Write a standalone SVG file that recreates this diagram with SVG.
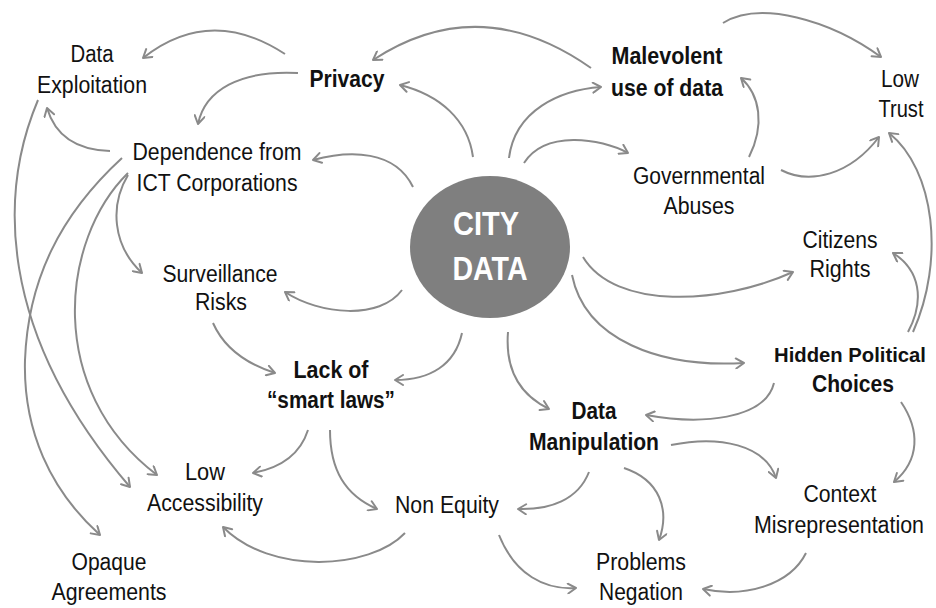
<svg xmlns="http://www.w3.org/2000/svg" width="936" height="608" viewBox="0 0 936 608">
<defs>
<marker id="ah" viewBox="0 0 12 12" refX="10" refY="6" markerWidth="12" markerHeight="12" markerUnits="userSpaceOnUse" orient="auto">
<path d="M2,1 L10,6 L2,11" fill="none" stroke="#8a8a8a" stroke-width="2" stroke-linecap="round" stroke-linejoin="round"/>
</marker>
<style>
.c{fill:none;stroke:#8a8a8a;stroke-width:2;marker-end:url(#ah)}
.t{font-family:"Liberation Sans Narrow","Liberation Sans",Arial,sans-serif;font-size:23px;fill:#111;text-anchor:middle}
.b{font-weight:bold}
.w{font-family:"Liberation Sans Narrow","Liberation Sans",Arial,sans-serif;font-size:33px;font-weight:bold;fill:#fff;text-anchor:middle}
</style>
</defs>
<rect width="936" height="608" fill="#fff"/>
<g id="connectors">
<path class="c" d="M285,54 Q210,5 143,58"/>
<path class="c" d="M298,73 C240,70 205,90 198,124"/>
<path class="c" d="M473,157 C468,120 440,95 400,85"/>
<path class="c" d="M591,68 Q480,-10 373,60"/>
<path class="c" d="M509,158 C515,110 560,90 601,87"/>
<path class="c" d="M524,163 C545,130 600,138 628,153"/>
<path class="c" d="M749,157 C765,125 760,95 741,78"/>
<path class="c" d="M781,170 C810,185 850,175 879,137"/>
<path class="c" d="M723,23 C760,0 830,20 881,57"/>
<path class="c" d="M913,332 C945,260 935,170 889,133"/>
<path class="c" d="M908,332 C925,300 920,270 893,253"/>
<path class="c" d="M583,257 C615,310 720,305 793,272"/>
<path class="c" d="M572,275 C585,340 660,368 744,363"/>
<path class="c" d="M774,383 C765,420 700,425 646,415"/>
<path class="c" d="M508,332 C505,370 520,395 549,409"/>
<path class="c" d="M901,402 C920,430 920,460 894,482"/>
<path class="c" d="M671,445 C720,435 765,445 776,478"/>
<path class="c" d="M589,472 C578,500 550,510 518,509"/>
<path class="c" d="M624,468 C660,480 670,510 659,540"/>
<path class="c" d="M499,535 C515,575 545,590 576,588"/>
<path class="c" d="M806,553 C790,585 745,598 703,589"/>
<path class="c" d="M308,430 C300,455 280,468 253,473"/>
<path class="c" d="M330,430 C330,470 345,495 377,509"/>
<path class="c" d="M405,533 C370,570 270,575 223,527"/>
<path class="c" d="M213,323 C225,350 250,365 275,373"/>
<path class="c" d="M462,333 C455,365 430,380 395,380"/>
<path class="c" d="M402,290 C380,320 320,315 285,292"/>
<path class="c" d="M413,187 C395,150 350,150 313,160"/>
<path class="c" d="M110,151 C75,150 55,135 47,108"/>
<path class="c" d="M38,100 C0,190 -5,330 130,487"/>
<path class="c" d="M122,158 C60,215 28,280 25,360 C23,430 50,490 100,535"/>
<path class="c" d="M128,173 C60,240 45,390 157,475"/>
<path class="c" d="M128,175 C110,205 112,245 142,273"/>
</g>
<g id="city-data">
<ellipse cx="490" cy="247" rx="80" ry="71" fill="#7f7f7f"/>
<text class="w" x="486" y="235" textLength="66" lengthAdjust="spacingAndGlyphs">CITY</text>
<text class="w" x="490" y="280" textLength="75" lengthAdjust="spacingAndGlyphs">DATA</text>
</g>
<g id="data-exploitation">
<text class="t" x="92" y="62" textLength="43" lengthAdjust="spacingAndGlyphs">Data</text>
<text class="t" x="92" y="93" textLength="110" lengthAdjust="spacingAndGlyphs">Exploitation</text>
</g>
<g id="privacy">
<text class="t b" x="347" y="87" textLength="75" lengthAdjust="spacingAndGlyphs">Privacy</text>
</g>
<g id="malevolent-use">
<text class="t b" x="667" y="64" textLength="111" lengthAdjust="spacingAndGlyphs">Malevolent</text>
<text class="t b" x="667" y="96" textLength="112" lengthAdjust="spacingAndGlyphs">use of data</text>
</g>
<g id="low-trust">
<text class="t" x="900" y="87" textLength="38" lengthAdjust="spacingAndGlyphs">Low</text>
<text class="t" x="901" y="117" textLength="45" lengthAdjust="spacingAndGlyphs">Trust</text>
</g>
<g id="dependence">
<text class="t" x="217" y="160" textLength="169" lengthAdjust="spacingAndGlyphs">Dependence from</text>
<text class="t" x="217" y="191" textLength="161" lengthAdjust="spacingAndGlyphs">ICT Corporations</text>
</g>
<g id="governmental-abuses">
<text class="t" x="699" y="184" textLength="132" lengthAdjust="spacingAndGlyphs">Governmental</text>
<text class="t" x="699" y="214" textLength="71" lengthAdjust="spacingAndGlyphs">Abuses</text>
</g>
<g id="citizens-rights">
<text class="t" x="840" y="248" textLength="75" lengthAdjust="spacingAndGlyphs">Citizens</text>
<text class="t" x="840" y="277" textLength="61" lengthAdjust="spacingAndGlyphs">Rights</text>
</g>
<g id="surveillance-risks">
<text class="t" x="220" y="282" textLength="115" lengthAdjust="spacingAndGlyphs">Surveillance</text>
<text class="t" x="221" y="310" textLength="52" lengthAdjust="spacingAndGlyphs">Risks</text>
</g>
<g id="lack-smart-laws">
<text class="t b" x="331" y="378" textLength="75" lengthAdjust="spacingAndGlyphs">Lack of</text>
<text class="t b" x="331" y="408" textLength="128" lengthAdjust="spacingAndGlyphs">“smart laws”</text>
</g>
<g id="hidden-political-choices">
<text class="t b" x="850" y="362" style="font-size:21px" textLength="152" lengthAdjust="spacingAndGlyphs">Hidden Political</text>
<text class="t b" x="853" y="392" textLength="82" lengthAdjust="spacingAndGlyphs">Choices</text>
</g>
<g id="data-manipulation">
<text class="t b" x="594" y="419" textLength="45" lengthAdjust="spacingAndGlyphs">Data</text>
<text class="t b" x="594" y="450" textLength="130" lengthAdjust="spacingAndGlyphs">Manipulation</text>
</g>
<g id="context-misrepresentation">
<text class="t" x="840" y="502" textLength="73" lengthAdjust="spacingAndGlyphs">Context</text>
<text class="t" x="839" y="533" textLength="170" lengthAdjust="spacingAndGlyphs">Misrepresentation</text>
</g>
<g id="problems-negation">
<text class="t" x="641" y="570" textLength="90" lengthAdjust="spacingAndGlyphs">Problems</text>
<text class="t" x="641" y="600" textLength="84" lengthAdjust="spacingAndGlyphs">Negation</text>
</g>
<g id="non-equity">
<text class="t" x="447" y="513" textLength="104" lengthAdjust="spacingAndGlyphs">Non Equity</text>
</g>
<g id="low-accessibility">
<text class="t" x="205" y="480" textLength="40" lengthAdjust="spacingAndGlyphs">Low</text>
<text class="t" x="205" y="511" textLength="116" lengthAdjust="spacingAndGlyphs">Accessibility</text>
</g>
<g id="opaque-agreements">
<text class="t" x="109" y="570" textLength="75" lengthAdjust="spacingAndGlyphs">Opaque</text>
<text class="t" x="109" y="600" textLength="115" lengthAdjust="spacingAndGlyphs">Agreements</text>
</g>
</svg>
